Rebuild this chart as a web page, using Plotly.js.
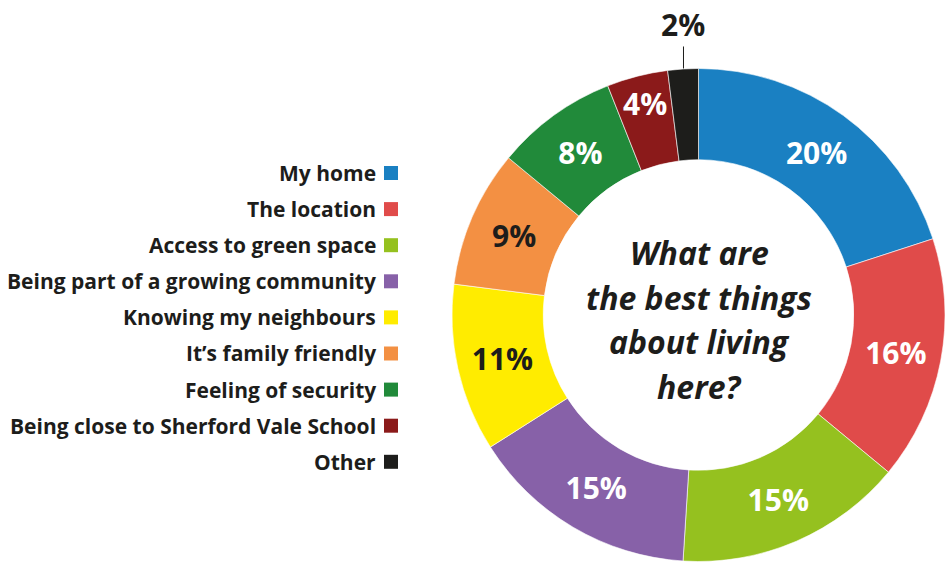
<!DOCTYPE html>
<html>
<head>
<meta charset="utf-8">
<script src="https://cdn.plot.ly/plotly-3.0.1.min.js"></script>
<style>
html,body{margin:0;padding:0;overflow:hidden;background:#fff;}
#chart{width:945px;height:562px;}
</style>
</head>
<body>
<div id="chart"></div>
<script>
const categories = ["My home","The location","Access to green space","Being part of a growing community","Knowing my neighbours","It\u2019s family friendly","Feeling of security","Being close to Sherford Vale School","Other"];
const values = [20,16,15,15,11,9,8,4,2];
const colors = ["#1a80c2","#e04b4a","#95c11f","#8761a8","#ffec00","#f39043","#218a3a","#8b1a1a","#1d1d1b"];
const textColors = ["#ffffff","#ffffff","#ffffff","#ffffff","#1d1d1b","#1d1d1b","#ffffff","#ffffff","#1d1d1b"];
// how each percentage label is drawn: by the pie itself, as a label on the ring, or outside with a leader line
const labelMode = ["pie","pie","pie","pie","pie","pie","pie","ring","outside"];
const centerLines = ["What are","the best things","about living","here?"];

const W = 945, H = 562;
const cx = 699, cy = 315, R = 247, ringR = 218;
const dark = "#1d1d1b";
const pctFont = {family: "Open Sans", size: 30, weight: 700};

const trace = {
  type: "pie",
  labels: categories,
  values: values,
  sort: false,
  direction: "clockwise",
  rotation: 0,
  hole: 0.63,
  marker: {colors: colors, line: {color: "#ffffff", width: 0.6}},
  texttemplate: values.map((v, i) => labelMode[i] === "pie" ? "%{value}%" : ""),
  textposition: "inside",
  insidetextorientation: "horizontal",
  insidetextfont: Object.assign({}, pctFont, {color: textColors}),
  showlegend: false,
  hoverinfo: "none",
  domain: {x: [(cx - R) / W, (cx + R) / W], y: [1 - (cy + R) / H, 1 - (cy - R) / H]}
};

const annotations = [];
const shapes = [];
// labels placed at each slice's mid-angle
const total = values.reduce((a, b) => a + b, 0);
let cum = 0;
values.forEach((v, i) => {
  const mid = (cum + v / 2) / total * 2 * Math.PI;
  cum += v;
  if (labelMode[i] === "pie") return;
  const r = labelMode[i] === "ring" ? ringR : R;
  const px = cx + r * Math.sin(mid), py = cy - r * Math.cos(mid);
  const a = {
    xref: "paper", yref: "paper", x: px / W, y: 1 - py / H,
    text: "<b>" + v + "%</b>",
    font: Object.assign({}, pctFont, {color: textColors[i]})
  };
  if (labelMode[i] === "outside") {
    Object.assign(a, {showarrow: true, arrowhead: 0, arrowwidth: 1, arrowcolor: dark, ax: 0, ay: -44, standoff: 0});
  } else {
    Object.assign(a, {showarrow: false, xanchor: "center", yanchor: "middle"});
  }
  annotations.push(a);
});
// centre text
const centerY = [253, 297, 341, 386];
centerLines.forEach((s, i) => {
  annotations.push({
    xref: "paper", yref: "paper", x: cx / W, y: 1 - centerY[i] / H,
    xanchor: "center", yanchor: "middle", showarrow: false,
    text: "<i>" + s + "</i>",
    font: {family: "Open Sans", size: 32, color: dark, weight: 700}
  });
});
// custom right-aligned legend
const rowTop = 173, rowStep = 36.1, sqRight = 398, sqSize = 14, textRight = 378;
categories.forEach((c, i) => {
  const y = rowTop + i * rowStep;
  annotations.push({
    xref: "paper", yref: "paper", x: textRight / W, y: 1 - y / H,
    xanchor: "right", yanchor: "middle", showarrow: false,
    text: "<b>" + c + "</b>", font: {family: "Open Sans", size: 21, color: dark, weight: 700}
  });
  shapes.push({
    type: "rect", xref: "paper", yref: "paper",
    x0: (sqRight - sqSize) / W, x1: sqRight / W,
    y0: 1 - (y + sqSize / 2) / H, y1: 1 - (y - sqSize / 2) / H,
    fillcolor: colors[i], line: {width: 0}
  });
});

const layout = {
  width: W, height: H,
  margin: {l: 0, r: 0, t: 0, b: 0},
  paper_bgcolor: "#ffffff",
  annotations: annotations,
  shapes: shapes
};

Plotly.newPlot("chart", [trace], layout, {displayModeBar: false, staticPlot: true});
</script>
</body>
</html>
